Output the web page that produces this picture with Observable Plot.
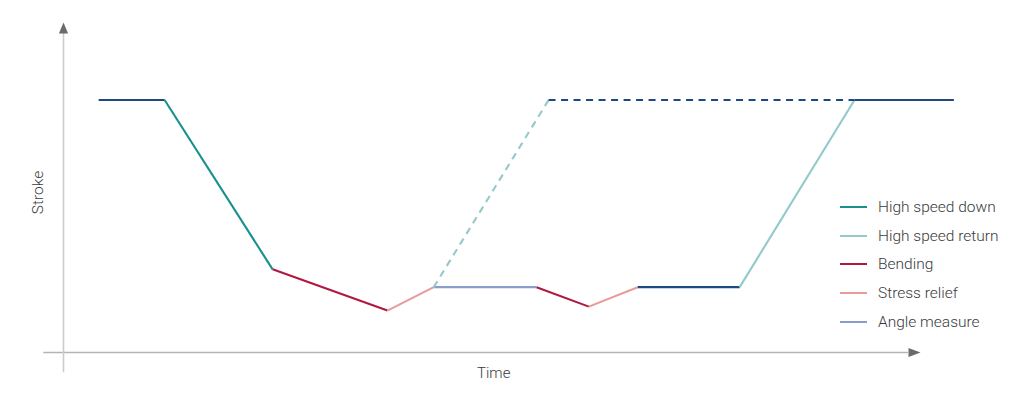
<!DOCTYPE html>
<html>
<head>
<meta charset="utf-8">
<script src="https://cdn.jsdelivr.net/npm/d3@7"></script>
<script src="https://cdn.jsdelivr.net/npm/@observablehq/plot@0.6"></script>
<style>
  html, body { margin: 0; padding: 0; background: #fff; }
  #wrap { position: relative; width: 1024px; height: 398px; }
  #legend { position: absolute; left: 840px; top: 193px; font-family: Roboto, "Liberation Sans", sans-serif; font-weight: 300; font-size: 15.5px; color: #3a3a3a; }
  .item { display: flex; align-items: center; height: 28.6px; }
  .sw { width: 27px; height: 2px; margin-right: 11px; }
</style>
</head>
<body>
<div id="wrap"><div id="legend"></div></div>
<script>
// Phases shown in the legend
const phases = ["High speed down", "High speed return", "Bending", "Stress relief", "Angle measure"];
const phaseColors = ["#17908f", "#93c9c9", "#b2183f", "#e79b9b", "#8a9dca"];
const holdColor = "#1c4a80";

// Segments of the stroke/time curve (time units, stroke units)
const segPhase  = ["Hold", "High speed down", "Bending", "Stress relief", "Angle measure", "High speed return", "Hold", "Bending", "Stress relief", "Hold", "High speed return", "Hold"];
const segT0     = [4.1, 11.8, 24.4, 37.8, 43.2, 43.2, 56.6, 55.2, 61.3, 67.0, 78.9, 92.3];
const segS0     = [76.5, 76.5, 25.2, 12.7, 19.8, 19.8, 76.5, 19.8, 13.9, 19.8, 19.8, 76.5];
const segT1     = [11.8, 24.4, 37.8, 43.2, 55.2, 56.6, 92.3, 61.3, 67.0, 78.9, 92.3, 103.9];
const segS1     = [76.5, 25.2, 12.7, 19.8, 19.8, 76.5, 76.5, 13.9, 19.8, 19.8, 76.5, 76.5];
const segDashed = [false, false, false, false, false, true, true, false, false, false, false, false];

// Axis extents
const axisTimeStart = -2.3, axisTimeEnd = 100;
const axisStrokeStart = -6.1, axisStrokeEnd = 100;

const segments = segPhase.map((p, i) => ({
  phase: p, t0: segT0[i], s0: segS0[i], t1: segT1[i], s1: segS1[i], dashed: segDashed[i]
}));

const colorDomain = [...phases, "Hold"];
const colorRange = [...phaseColors, holdColor];

const triUp = { draw(ctx) { ctx.moveTo(0, 0); ctx.lineTo(4.6, 11); ctx.lineTo(-4.6, 11); ctx.closePath(); } };
const triRight = { draw(ctx) { ctx.moveTo(0, 0); ctx.lineTo(-12, -4.6); ctx.lineTo(-12, 4.6); ctx.closePath(); } };

const chart = Plot.plot({
  width: 1024,
  height: 398,
  margin: 0,
  x: { domain: [0, 100], range: [63, 920], axis: null },
  y: { domain: [0, 100], range: [352, 22], axis: null },
  color: { domain: colorDomain, range: colorRange },
  style: { fontFamily: "Roboto, 'Liberation Sans', sans-serif", background: "#fff" },
  marks: [
    Plot.ruleY([0], { x1: axisTimeStart, x2: axisTimeEnd - 12 / 8.57, stroke: "#b4b4b4", strokeWidth: 1.5 }),
    Plot.ruleX([0], { y1: axisStrokeStart, y2: axisStrokeEnd - 11 / 3.3, stroke: "#cccccc", strokeWidth: 1.6 }),
    Plot.dot([{ t: 0, s: axisStrokeEnd }], { x: "t", y: "s", symbol: triUp, fill: "#6b6b6b", stroke: "none", r: 5 }),
    Plot.dot([{ t: axisTimeEnd, s: 0 }], { x: "t", y: "s", symbol: triRight, fill: "#6b6b6b", stroke: "none", r: 5 }),
    Plot.link(segments.filter(d => !d.dashed), {
      x1: "t0", y1: "s0", x2: "t1", y2: "s1", stroke: "phase", strokeWidth: 2.1, strokeLinecap: "butt"
    }),
    Plot.link(segments.filter(d => d.dashed), {
      x1: "t0", y1: "s0", x2: "t1", y2: "s1", stroke: "phase", strokeWidth: 2.1, strokeDasharray: "7,5.5", strokeLinecap: "butt"
    }),
    Plot.text(["Time"], { x: 50.2, y: -6.2, text: d => d, fontSize: 15, fontWeight: 300, fill: "#3a3a3a" }),
    Plot.text(["Stroke"], { x: -2.95, y: 48.5, text: d => d, rotate: -90, fontSize: 15.5, fontWeight: 300, fill: "#3a3a3a" })
  ]
});
document.getElementById("wrap").prepend(chart);

const legend = document.getElementById("legend");
phases.forEach((p, i) => {
  const row = document.createElement("div");
  row.className = "item";
  const sw = document.createElement("div");
  sw.className = "sw";
  sw.style.background = phaseColors[i];
  const lab = document.createElement("span");
  lab.textContent = p;
  row.appendChild(sw);
  row.appendChild(lab);
  legend.appendChild(row);
});
</script>
</body>
</html>
